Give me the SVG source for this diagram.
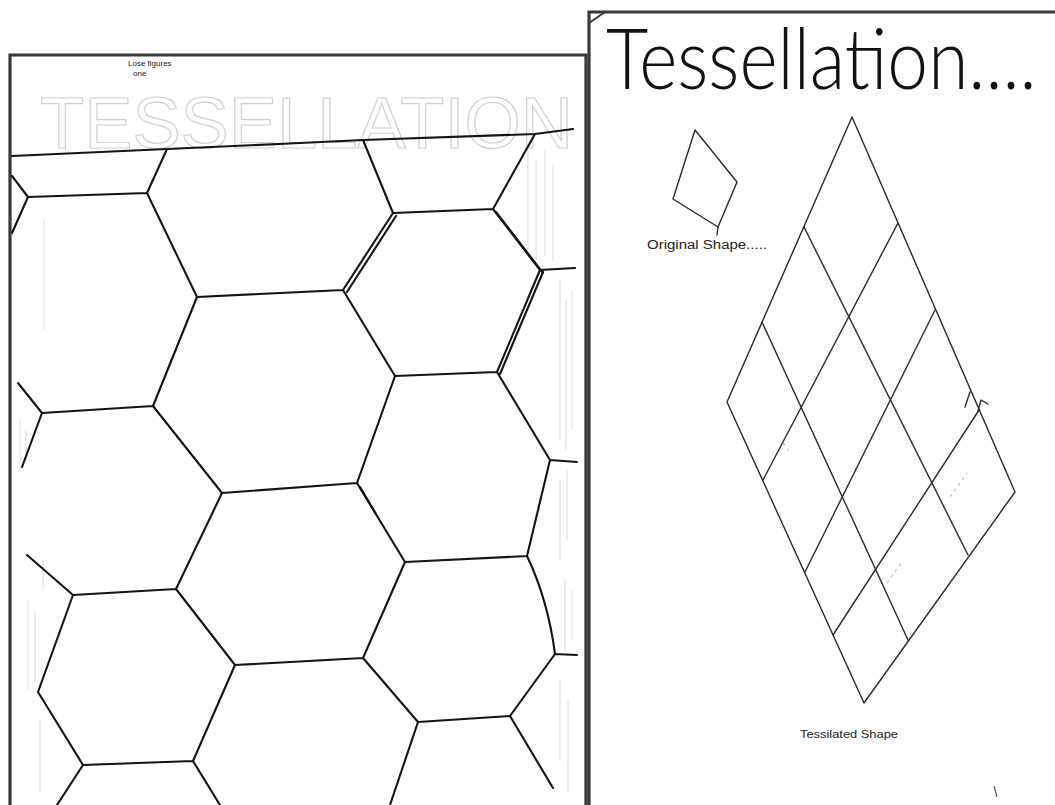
<svg xmlns="http://www.w3.org/2000/svg" width="1055" height="805" viewBox="0 0 1055 805">
<style>
.frame{fill:none;stroke:#3a3a3a;stroke-width:3.2}
.hex{fill:none;stroke:#141414;stroke-width:2.1;stroke-linecap:round;stroke-linejoin:round}
.hatch{fill:none;stroke:#dedede;stroke-width:1.1;stroke-linecap:round}
.grid{fill:none;stroke:#2a2a2a;stroke-width:1.4;stroke-linecap:round;stroke-linejoin:round}
.faint{fill:none;stroke:#c4c4c4;stroke-width:1.3;stroke-dasharray:3 4}
.hand{font-family:"Liberation Sans","DejaVu Sans",sans-serif;fill:#222}
</style>
<rect width="1055" height="805" fill="#ffffff"/>

<g id="left-panel">
  <path class="frame" d="M10,805 V55 H586 V805"/>
  <g id="left-title">
    <text x="40" y="148" font-family="'Liberation Sans',sans-serif" font-size="72" textLength="533" lengthAdjust="spacingAndGlyphs" fill="none" stroke="#b0b0b0" stroke-width="1.2" opacity="0.6">TESSELLATION</text>
    <text class="hand" x="128" y="66" font-size="8" fill="#666">Lose figures</text>
    <text class="hand" x="133" y="76" font-size="8" fill="#666">one</text>
  </g>
  <g id="shading">
    <path class="hatch" d="M528,150 V250 M536,160 V260 M545,150 V255 M553,165 V262 M560,280 V440 M566,300 V450 M572,290 V430 M560,480 V560 M567,470 V540 M565,580 V650 M572,590 V640 M560,680 V760 M568,700 V790 M20,420 V470 M26,430 V460 M28,600 V690 M35,610 V680 M40,720 V790 M44,220 V330 M43,560 V590"/>
  </g>
  <g id="hex-grid">
    <polyline class="hex" points="12,156 167,149 300,143 363,140 535,134 573,129"/>
    <path class="hex" d="
      M167,149 L147,193 M147,193 L28,197 M28,197 L12,176 M28,197 L12,233
      M147,193 L197,297 M197,297 L343,290
      M363,140 L393,213 M393,213 L493,209 M493,209 L535,134
      M493,209 L540,270 M540,270 L575,268 M393,213 L343,290
      M343,290 L395,376 M395,376 L497,372 M497,372 L540,270
      M497,372 L550,460 M550,460 L577,462 M550,460 L527,556
      M395,376 L357,483 M357,483 L222,493 M222,493 L153,406
      M153,406 L197,297 M153,406 L42,413 M42,413 L18,383 M42,413 L22,467
      M222,493 L176,589 M357,483 L405,562 M405,562 L527,556
      M527,556 Q548,600 555,654 M555,654 L577,655 M555,654 L510,716
      M510,716 L553,788 M510,716 L418,722 M418,722 L363,658 M418,722 L390,805
      M363,658 L405,562 M363,658 L235,665 M235,665 L176,589
      M176,589 L73,595 M73,595 L27,555 M73,595 L38,692
      M38,692 L83,765 M83,765 L193,761 M193,761 L235,665
      M83,765 L57,805 M193,761 L220,805"/>
    <path class="hex" stroke-width="1" d="M396,216 L347,292 M496,212 L543,273 M500,374 L543,272 M360,487 L376,514"/>
  </g>
</g>

<g id="right-panel">
  <path class="frame" d="M589,805 V12 H1055"/>
  <line x1="589" y1="23" x2="605" y2="12" stroke="#3a3a3a" stroke-width="2"/>
  <g id="title">
    <text transform="translate(606,89) scale(0.87,1)" x="0" y="0" font-family="Lato,'Open Sans',sans-serif" font-weight="300" font-size="84" fill="#111">Tessellation....</text>
  </g>
  <g id="original-shape">
    <polygon class="grid" points="695,130 737,182 718,227 673,199"/>
    <line class="grid" x1="718" y1="227" x2="717" y2="235"/>
    <text class="hand" x="647" y="249" font-size="12" textLength="120" lengthAdjust="spacingAndGlyphs">Original Shape.....</text>
  </g>
  <g id="tessellated-shape">
    <polygon class="grid" points="852,117 1015,492 864,703 727,402"/>
    <path class="grid" d="M804,227 L968,555 M762,322 L908,640 M898,223 L763,480 M935,310 L805,572 M979,410 L833,635"/>
    <path class="grid" stroke-width="1.2" d="M965,407 L970,392 M978,411 L981,400 L988,404"/>
    <path class="faint" d="M950,497 L967,473 M887,583 L903,560 M783,443 L790,452"/>
    <text class="hand" x="800" y="738" font-size="11" textLength="98" lengthAdjust="spacingAndGlyphs">Tessilated Shape</text>
  </g>
  <line x1="994" y1="786" x2="997" y2="797" stroke="#555" stroke-width="1.2"/>
</g>
</svg>
